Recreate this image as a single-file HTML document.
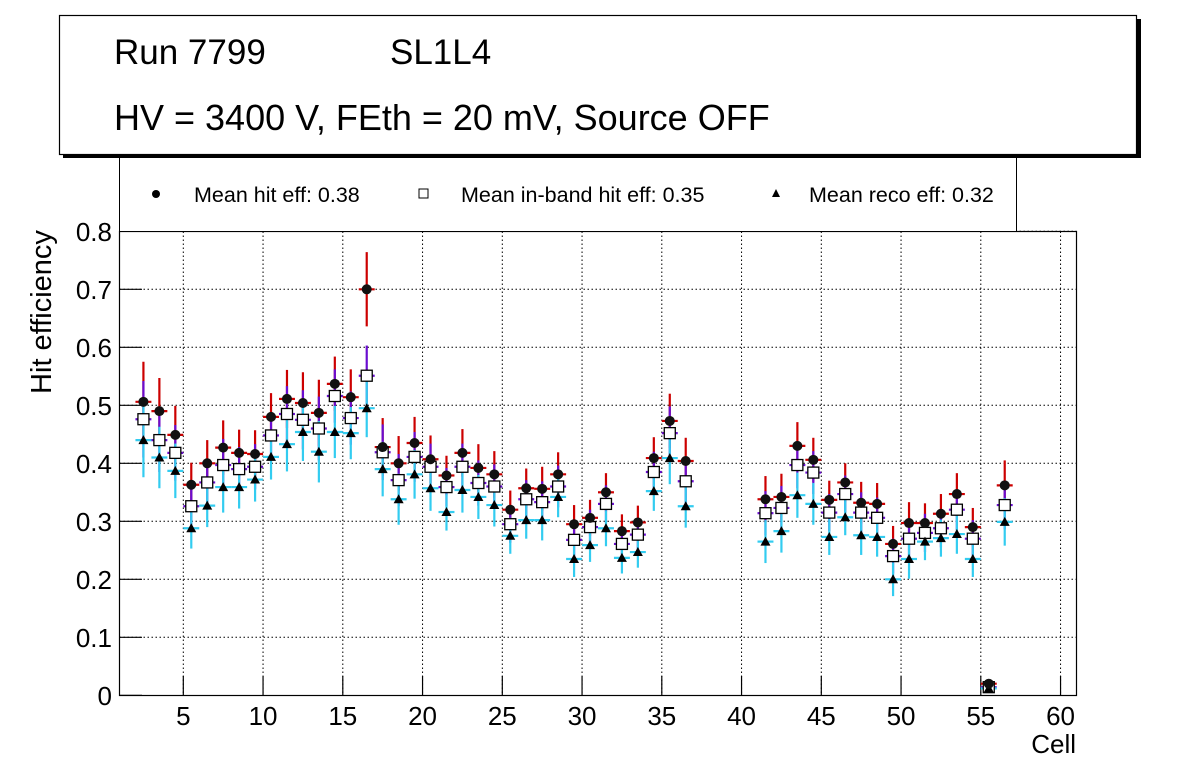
<!DOCTYPE html>
<html><head><meta charset="utf-8"><style>
body{margin:0;background:#fff;}
svg{display:block;font-family:"Liberation Sans",sans-serif;}
</style></head><body>
<svg id="c" width="1196" height="772" viewBox="0 0 1196 772">
<rect x="0" y="0" width="1196" height="772" fill="#fff"/>
<g id="grid"></g>
<g id="axes"></g>
<g id="bars"></g>
<g id="marks"></g>
<rect x="119.5" y="231.5" width="957" height="464" fill="none" stroke="#000" stroke-width="1.2"/>
<g>
<rect x="119.5" y="155" width="897" height="76.5" fill="#fff" stroke="#000" stroke-width="1"/>
<circle cx="156" cy="194" r="4" fill="#000"/>
<text x="194" y="202" font-size="21.5">Mean hit  eff: 0.38</text>
<rect x="419" y="189" width="9" height="9" fill="#fff" stroke="#000"/>
<text x="461" y="202" font-size="21.5">Mean in-band hit eff: 0.35</text>
<polygon points="776,189 780,197 772,197" fill="#000"/>
<text x="809" y="202" font-size="21.5">Mean reco eff: 0.32</text>
</g>
<g>
<rect x="63" y="19" width="1078" height="139" fill="#000"/>
<rect x="59.5" y="15.5" width="1077" height="139" fill="#fff" stroke="#000" stroke-width="1.2"/>
<text x="114" y="64" font-size="35">Run 7799</text>
<text x="390" y="64" font-size="35">SL1L4</text>
<text x="114" y="130" font-size="36">HV = 3400 V, FEth = 20 mV, Source OFF</text>
</g>
<text x="1076" y="753" font-size="26" text-anchor="end">Cell</text>
<text transform="translate(51,312) rotate(-90)" font-size="29" text-anchor="middle">Hit efficiency</text>
</svg>
<script>
const cells=[2.5,3.5,4.5,5.5,6.5,7.5,8.5,9.5,10.5,11.5,12.5,13.5,14.5,15.5,16.5,17.5,18.5,19.5,20.5,21.5,22.5,23.5,24.5,25.5,26.5,27.5,28.5,29.5,30.5,31.5,32.5,33.5,34.5,35.5,36.5,41.5,42.5,43.5,44.5,45.5,46.5,47.5,48.5,49.5,50.5,51.5,52.5,53.5,54.5,55.5,56.5];
const hitEff=[0.506,0.49,0.449,0.363,0.40,0.427,0.418,0.416,0.48,0.511,0.504,0.487,0.537,0.514,0.70,0.428,0.40,0.435,0.407,0.379,0.418,0.392,0.381,0.32,0.357,0.356,0.381,0.295,0.306,0.35,0.283,0.298,0.409,0.473,0.404,0.338,0.342,0.43,0.406,0.337,0.367,0.332,0.330,0.261,0.297,0.297,0.313,0.347,0.29,0.02,0.362];
const hitErr=[0.069,0.057,0.050,0.038,0.040,0.047,0.040,0.041,0.041,0.050,0.053,0.057,0.047,0.048,0.064,0.050,0.047,0.045,0.041,0.034,0.041,0.041,0.040,0.033,0.034,0.038,0.038,0.033,0.031,0.033,0.029,0.029,0.036,0.047,0.040,0.040,0.040,0.041,0.038,0.033,0.033,0.036,0.036,0.031,0.036,0.034,0.034,0.036,0.033,0.007,0.043];
const inbandEff=[0.476,0.44,0.418,0.326,0.367,0.397,0.39,0.394,0.448,0.485,0.475,0.46,0.516,0.478,0.551,0.419,0.371,0.411,0.394,0.359,0.394,0.366,0.36,0.295,0.338,0.333,0.36,0.268,0.29,0.33,0.261,0.277,0.385,0.452,0.369,0.314,0.323,0.397,0.384,0.315,0.347,0.315,0.306,0.24,0.27,0.28,0.288,0.32,0.27,0.014,0.328];
const inbandErr=[0.066,0.055,0.048,0.036,0.038,0.045,0.038,0.039,0.040,0.048,0.051,0.055,0.046,0.046,0.052,0.048,0.045,0.043,0.040,0.033,0.040,0.039,0.038,0.032,0.033,0.036,0.036,0.032,0.030,0.032,0.028,0.028,0.035,0.046,0.038,0.038,0.038,0.040,0.037,0.032,0.032,0.035,0.035,0.030,0.035,0.033,0.033,0.035,0.032,0.006,0.042];
const recoEff=[0.44,0.41,0.387,0.288,0.327,0.359,0.359,0.372,0.411,0.433,0.454,0.42,0.454,0.452,0.495,0.39,0.338,0.381,0.357,0.316,0.354,0.342,0.328,0.275,0.302,0.302,0.342,0.235,0.259,0.288,0.237,0.247,0.352,0.409,0.326,0.265,0.283,0.345,0.33,0.273,0.307,0.276,0.273,0.20,0.235,0.265,0.271,0.278,0.235,0.012,0.299];
const recoErr=[0.064,0.053,0.047,0.035,0.037,0.044,0.037,0.038,0.039,0.047,0.050,0.053,0.045,0.045,0.050,0.047,0.044,0.042,0.039,0.032,0.039,0.038,0.037,0.031,0.032,0.035,0.035,0.031,0.029,0.031,0.027,0.027,0.034,0.045,0.037,0.037,0.037,0.039,0.036,0.031,0.031,0.034,0.034,0.029,0.034,0.032,0.032,0.034,0.031,0.006,0.041];
const xTicks=[5,10,15,20,25,30,35,40,45,50,55,60];
const yTicks=[0,0.1,0.2,0.3,0.4,0.5,0.6,0.7,0.8];
const yTickLabels=["0","0.1","0.2","0.3","0.4","0.5","0.6","0.7","0.8"];

const X0=119.5,X1=1076.5,XMIN=1,XMAX=61,Y0=695.3,YPER=580;
const xs=v=>X0+(v-XMIN)/(XMAX-XMIN)*(X1-X0);
const ys=v=>Y0-v*YPER;
const NS='http://www.w3.org/2000/svg';
function mk(tag,attrs,parent){const e=document.createElementNS(NS,tag);for(const k in attrs)e.setAttribute(k,attrs[k]);parent.appendChild(e);return e;}
const grid=document.getElementById('grid'),axes=document.getElementById('axes'),bars=document.getElementById('bars'),marks=document.getElementById('marks');
xTicks.forEach(t=>{const x=xs(t);
 let g=mk('line',{x1:x,x2:x,y1:231.5,y2:695.3,stroke:'#000','stroke-width':1,'stroke-dasharray':'1.5,2.5'},grid);
 
 
 let tk=mk('line',{x1:x,x2:x,y1:695.3,y2:676,stroke:'#000','stroke-width':1.2},axes);
 
 
 let lb=mk('text',{x:x,y:725,'font-size':26,'text-anchor':'middle'},axes);lb.textContent=String(t);
 
 
});
yTicks.forEach((t,i)=>{const y=ys(t);
 if(i>0){let g=mk('line',{x1:119.5,x2:1076.5,y1:y,y2:y,stroke:'#000','stroke-width':1,'stroke-dasharray':'1.5,2.5'},grid);
 
 }
 let tk=mk('line',{x1:119.5,x2:142,y1:y,y2:y,stroke:'#000','stroke-width':1.2},axes);
 
 
 let lb=mk('text',{x:112,y:y+9.5,'font-size':26,'text-anchor':'end'},axes);lb.textContent=yTickLabels[i];
 
 
});
function drawBars(vals,errs,color,name){
 cells.forEach((c,i)=>{const x=xs(c),y=ys(vals[i]),hw=(xs(1.5)-xs(1))*1;
  let v=mk('line',{x1:x,x2:x,y1:ys(vals[i]+errs[i]),y2:ys(vals[i]-errs[i]),stroke:color,'stroke-width':2.2},bars);
  
  
  let h=mk('line',{x1:x-hw,x2:x+hw,y1:y,y2:y,stroke:color,'stroke-width':2.2},bars);
  
  
 });
}
drawBars(hitEff,hitErr,'#cc0000','hit');
drawBars(inbandEff,inbandErr,'#6a0dd0','inband');
drawBars(recoEff,recoErr,'#33ccf0','reco');
cells.forEach((c,i)=>{const x=xs(c);
 let s=mk('rect',{x:x-5.5,y:ys(inbandEff[i])-5.5,width:11,height:11,fill:'#fff',stroke:'#000','stroke-width':1.3},marks);
 
 
 const ty=ys(recoEff[i]);
 let t=mk('polygon',{points:(x)+','+(ty-5)+' '+(x+5)+','+(ty+4)+' '+(x-5)+','+(ty+4),fill:'#000'},marks);
 
 
 let p=mk('circle',{cx:x,cy:ys(hitEff[i]),r:5,fill:'#111'},marks);
 
 
});
</script>
</body></html>
